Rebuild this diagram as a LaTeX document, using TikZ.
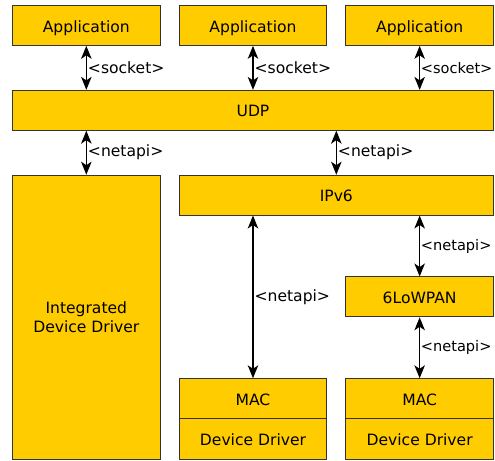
\documentclass[tikz,border=0pt]{standalone}
\usepackage{fontspec}
\setmainfont{DejaVu Sans}
\usetikzlibrary{arrows.meta}

\definecolor{layer}{HTML}{FFCC00}

\begin{document}
\begin{tikzpicture}[x=1pt,y=-1pt,
    box/.style={draw=black!80,fill=layer,line width=0.9pt,inner sep=0pt,
      minimum width=148pt,minimum height=40pt,text height=13.2pt,text depth=0pt,
      font=\fontsize{15.6}{19}\selectfont},
    link/.style={{Stealth[length=13pt,width=10.5pt,inset=3.5pt]}-{Stealth[length=13pt,width=10.5pt,inset=3.5pt]},line width=1.3pt},
    lbl/.style={right,inner sep=1pt,font=\fontsize{15.6}{19}\selectfont},
    % labels of the right column have to stay inside the page
    lbledge/.style={lbl,inner sep=0.6pt,font=\fontsize{14.6}{18}\selectfont}]
      \useasboundingbox (-0.5,-0.5) rectangle (495.5,460.5);

      \foreach \n/\x in {1/86,2/253,3/420}
        \node [box] (app\n) at (\x,25) {Application};
      \node [box,minimum width=482pt] (udp) at (253,110) {UDP};
      \node [box,minimum height=285pt,align=center,text height=,text depth=] (idd) at (86,317.5) {Integrated\\Device Driver};
      \node [box,minimum width=315pt] (ipv6) at (336.5,195) {IPv6};
      \node [box] (lowpan) at (420,297) {6LoWPAN};
      \foreach \n/\x in {1/253,2/420}
      {
        \node [box] (mac\n) at (\x,399) {MAC};
        \node [box,minimum height=41pt] (drv\n) at (\x,439.5) {Device Driver};
      }

      \foreach \n/\s in {1/lbl,2/lbl,3/lbledge}
        \draw [link] (app\n.south) -- node [\s] {<socket>} (app\n.south |- udp.north);
      \draw [link] (udp.south -| idd.north) -- node [lbl] {<netapi>} (idd.north);
      \draw [link] (udp.south -| ipv6.north) -- node [lbl] {<netapi>} (ipv6.north);
      \draw [link] (ipv6.south -| mac1.north) -- node [lbl] {<netapi>} (mac1.north);
      \draw [link] (ipv6.south -| lowpan.north) -- node [lbledge] {<netapi>} (lowpan.north);
      \draw [link] (lowpan.south) -- node [lbledge] {<netapi>} (mac2.north);
    \end{tikzpicture}
\end{document}
